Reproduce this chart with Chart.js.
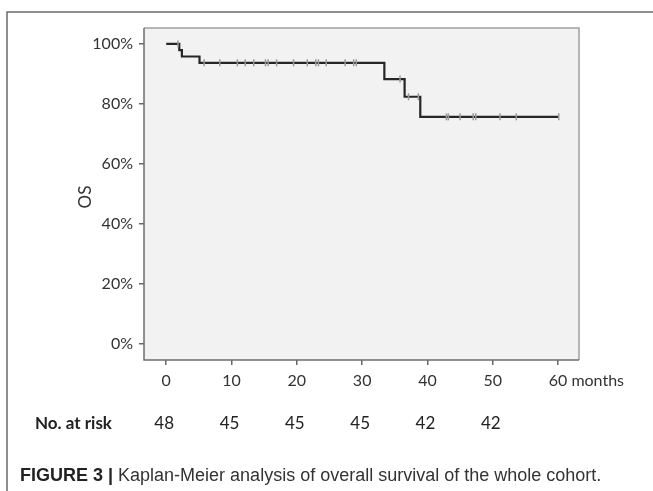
<!DOCTYPE html>
<html>
<head>
<meta charset="utf-8">
<script src="https://cdn.jsdelivr.net/npm/chart.js@4"></script>
<style>
  html, body { margin: 0; padding: 0; background: #fff; }
  #wrap { position: relative; width: 653px; height: 491px; }
</style>
</head>
<body>
<div id="wrap"><canvas id="km" width="653" height="491"></canvas></div>
<script>
// KM curve: event times (months) and survival (%) after each step
const stepTimes = [0, 2.0, 2.4, 5.1, 33.4, 36.5, 38.9, 60.1];
const stepSurv  = [100, 97.9, 95.8, 93.7, 88.3, 82.4, 75.7, 75.7];

// censored observations
const censorTimes = [1.8, 5.8, 8.2, 10.9, 12.1, 13.4, 15.2, 15.6, 16.9, 19.5, 21.6, 22.9, 23.3, 24.5,
                     27.4, 28.7, 29.1, 35.8, 37.1, 38.6, 42.9, 43.2, 45.0, 47.0, 47.4, 51.1, 53.6, 60.1];
const censorSurv  = [100, 93.7, 93.7, 93.7, 93.7, 93.7, 93.7, 93.7, 93.7, 93.7, 93.7, 93.7, 93.7, 93.7,
                     93.7, 93.7, 93.7, 88.3, 82.4, 82.4, 75.7, 75.7, 75.7, 75.7, 75.7, 75.7, 75.7, 75.7];

const xTicks = [0, 10, 20, 30, 40, 50, 60];
const yTicks = [0, 20, 40, 60, 80, 100];
const atRiskTimes = [0, 10, 20, 30, 40, 50];
const atRisk = [48, 45, 45, 45, 42, 42];

const caption = ['FIGURE 3 |', 'Kaplan-Meier analysis of overall survival of the whole cohort.'];

const TICK_FONT = '"Lato", "Open Sans", sans-serif';
const CAP_FONT = '"Liberation Sans", Arial, sans-serif';

const frame = {
    id: 'frame',
    beforeDraw(chart) {
        const { ctx, chartArea: a } = chart;
        ctx.save();
        ctx.fillStyle = '#f2f2f2';
        ctx.fillRect(a.left, a.top, a.right - a.left, a.bottom - a.top);
        ctx.restore();
    },
    afterDraw(chart) {
        const { ctx, chartArea: a } = chart;
        const xs = chart.scales.x;
        ctx.save();
        // plot box
        ctx.lineWidth = 1.5;
        ctx.strokeStyle = '#a0a0a0';
        ctx.beginPath();
        ctx.moveTo(a.left, a.top); ctx.lineTo(a.right, a.top); ctx.lineTo(a.right, a.bottom);
        ctx.stroke();
        ctx.strokeStyle = '#6e6e6e';
        ctx.beginPath();
        ctx.moveTo(a.left, a.top); ctx.lineTo(a.left, a.bottom); ctx.lineTo(a.right, a.bottom);
        ctx.stroke();

        // outer figure frame (left + top)
        ctx.strokeStyle = '#6a6a6a';
        ctx.beginPath();
        ctx.moveTo(7, 491); ctx.lineTo(7, 12); ctx.lineTo(653, 12);
        ctx.stroke();

        // y title
        ctx.fillStyle = '#333';
        ctx.font = '17px ' + TICK_FONT;
        ctx.textAlign = 'center';
        ctx.textBaseline = 'middle';
        ctx.save();
        ctx.translate(86, 197);
        ctx.rotate(-Math.PI / 2);
        ctx.fillText('OS', 0, 0);
        ctx.restore();

        // "months" after the last tick label
        ctx.font = '16px ' + TICK_FONT;
        ctx.textAlign = 'left';
        ctx.textBaseline = 'alphabetic';
        const x60 = xs.getPixelForValue(60);
        ctx.fillText('months', x60 + ctx.measureText('60').width / 2 + 4, 386);

        // at-risk row
        ctx.font = 'bold 17px ' + TICK_FONT;
        ctx.fillStyle = '#222';
        ctx.fillText('No. at risk', 35, 429);
        ctx.font = '17px ' + TICK_FONT;
        ctx.textAlign = 'center';
        atRisk.forEach((n, i) => ctx.fillText(String(n), xs.getPixelForValue(atRiskTimes[i]) - 2, 429));

        // caption
        ctx.textAlign = 'left';
        ctx.fillStyle = '#222';
        ctx.font = 'bold 18px ' + CAP_FONT;
        ctx.fillText(caption[0], 20, 481);
        const w0 = ctx.measureText(caption[0] + ' ').width;
        ctx.font = '18px ' + CAP_FONT;
        ctx.fillStyle = '#333';
        ctx.fillText(caption[1], 20 + w0, 481);
        ctx.restore();
    }
};

new Chart(document.getElementById('km'), {
    type: 'line',
    data: {
        datasets: [
            {
                label: 'censored',
                data: censorTimes.map((t, i) => ({ x: t, y: censorSurv[i] })),
                showLine: false,
                pointStyle: 'line',
                rotation: 90,
                pointRadius: 3.5,
                pointBorderWidth: 1.5,
                pointBorderColor: '#9a9a9a',
                pointBackgroundColor: '#9a9a9a'
            },
            {
                label: 'OS',
                data: stepTimes.map((t, i) => ({ x: t, y: stepSurv[i] })),
                stepped: true,
                borderColor: '#262626',
                borderWidth: 2.2,
                pointRadius: 0,
                fill: false
            }
        ]
    },
    options: {
        responsive: false,
        animation: false,
        layout: { padding: { top: 28, right: 74, left: 0, bottom: 0 } },
        plugins: { legend: { display: false }, tooltip: { enabled: false } },
        scales: {
            x: {
                type: 'linear',
                min: -3.4,
                max: 63.2,
                afterFit: s => { s.height = 131; },
                afterBuildTicks: s => { s.ticks = xTicks.map(v => ({ value: v })); },
                grid: { drawOnChartArea: false, drawTicks: true, tickLength: 5, color: '#666', lineWidth: 1.5 },
                border: { display: false },
                ticks: {
                    color: '#333',
                    font: { family: TICK_FONT, size: 16 },
                    padding: 6,
                    maxRotation: 0,
                    callback: v => String(v)
                }
            },
            y: {
                type: 'linear',
                min: -5.3,
                max: 105.3,
                afterFit: s => { s.width = 144; },
                afterBuildTicks: s => { s.ticks = yTicks.map(v => ({ value: v })); },
                grid: { drawOnChartArea: false, drawTicks: true, tickLength: 5, color: '#666', lineWidth: 1.5 },
                border: { display: false },
                ticks: {
                    color: '#333',
                    font: { family: TICK_FONT, size: 16 },
                    padding: 6,
                    callback: v => v + '%'
                }
            }
        }
    },
    plugins: [frame]
});
</script>
</body>
</html>
